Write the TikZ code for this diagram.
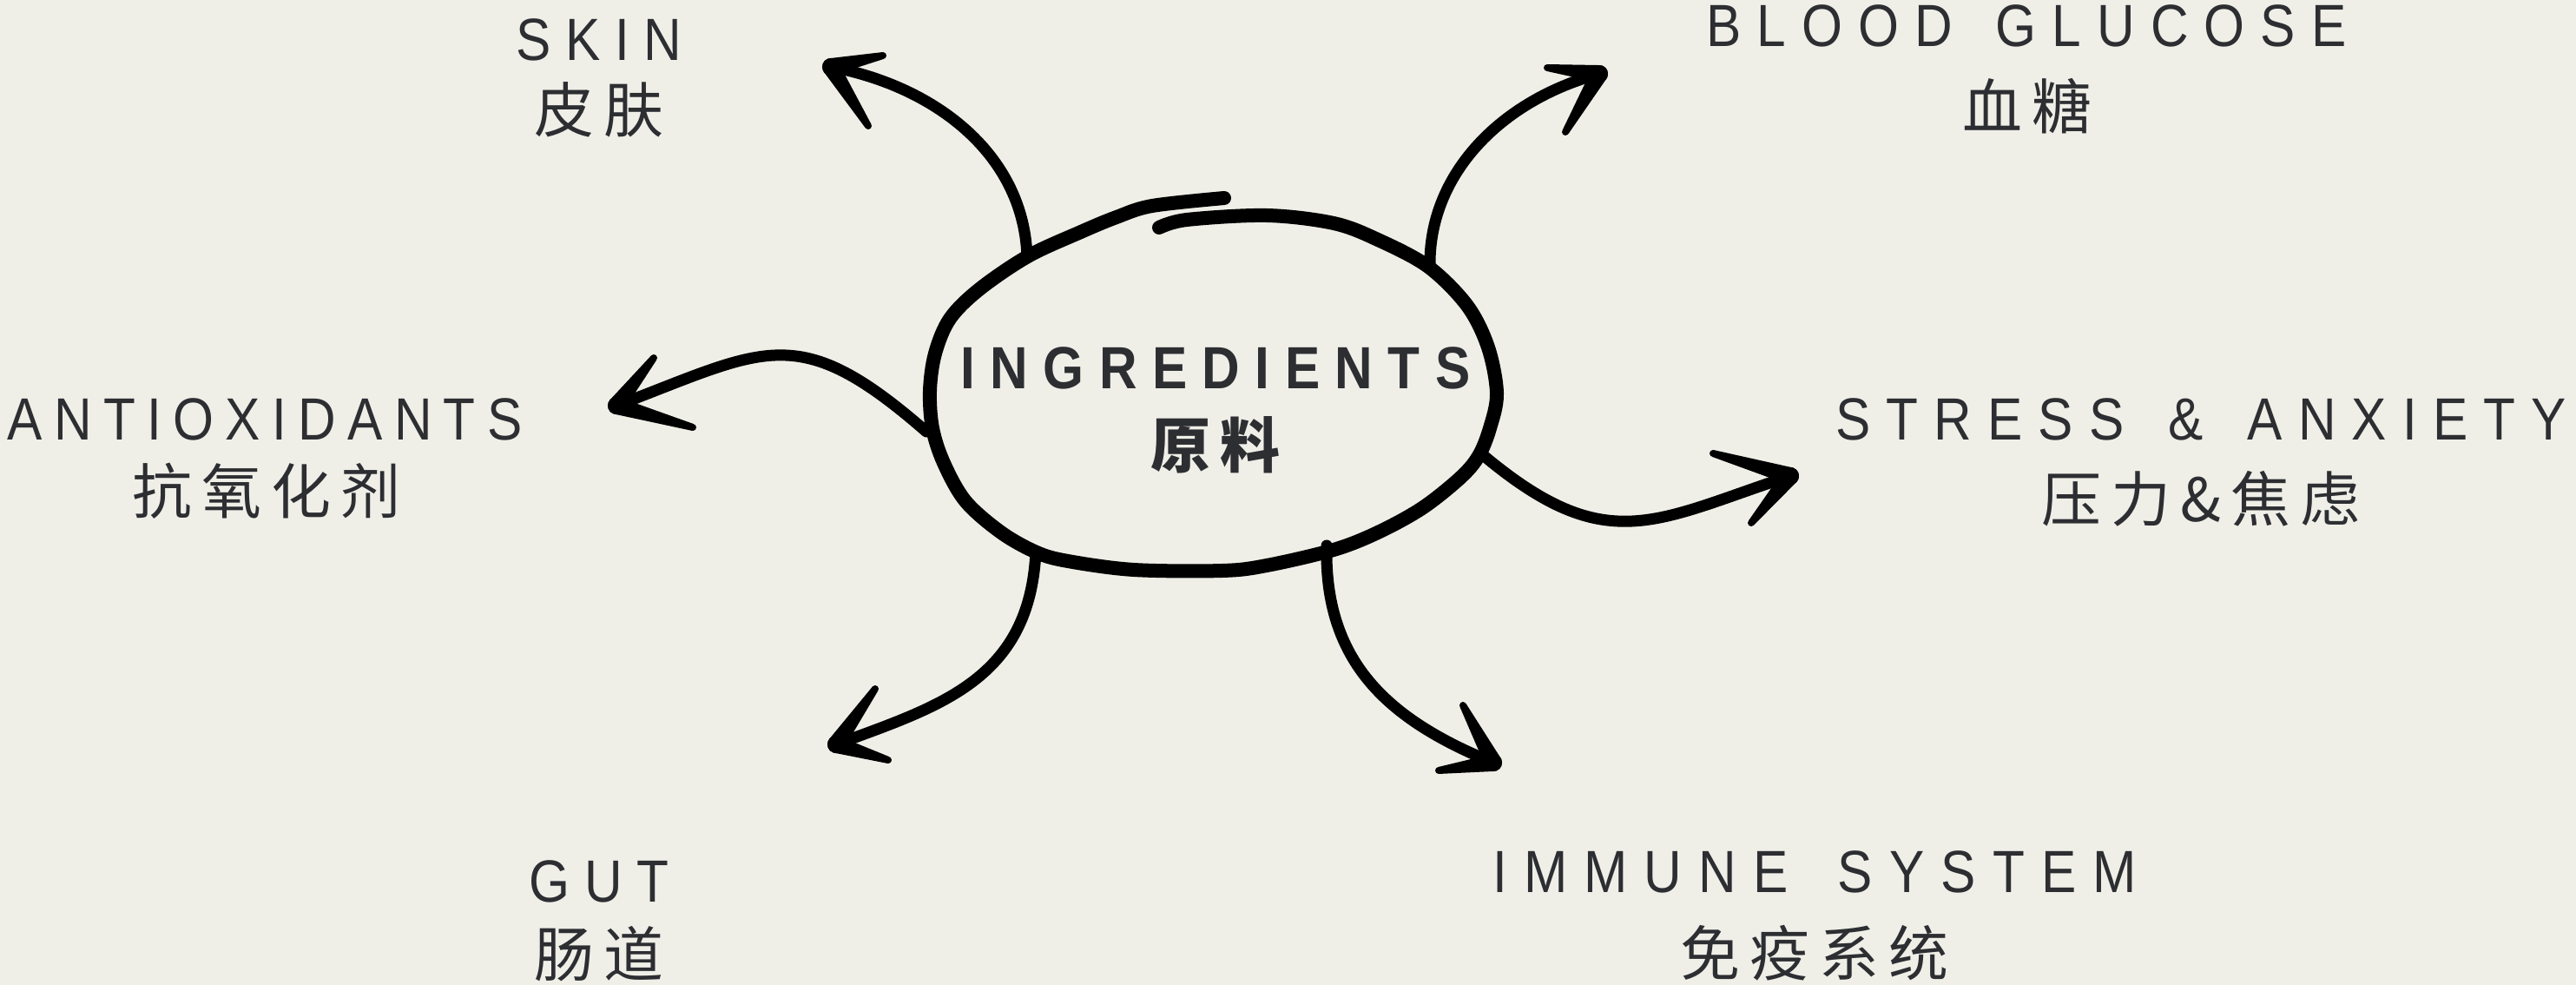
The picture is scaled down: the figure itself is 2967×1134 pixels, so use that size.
\documentclass[tikz,border=0pt]{standalone}
\usepackage{fontspec}
\usetikzlibrary{calc}
\newfontfamily\labfont[FakeStretch=0.88,LetterSpace=24]{Liberation Sans}
\newfontfamily\labnarrow[FakeStretch=0.88,LetterSpace=19.5]{Liberation Sans}
\newfontfamily\labwide[FakeStretch=0.88,LetterSpace=26.5]{Liberation Sans}
\newfontfamily\labwider[FakeStretch=0.88,LetterSpace=28]{Liberation Sans}
\newfontfamily\corefont[FakeStretch=0.88,LetterSpace=25.5]{Liberation Sans}
\newfontfamily\cjkfont[LetterSpace=16]{Noto Sans CJK SC}
\definecolor{bg}{RGB}{239,239,232}
\definecolor{txt}{RGB}{45,46,50}
\newcommand\wgap[1]{\hspace{#1}}
\newcommand\barb[2]{%
  \fill[black] ($(#1)!0.1cm!90:(#2)$) -- ($(#2)!0.04cm!-90:(#1)$) -- ($(#2)!0.04cm!90:(#1)$) -- ($(#1)!0.1cm!-90:(#2)$) -- cycle;
  \fill[black] (#1) circle (0.1cm);
  \fill[black] (#2) circle (0.04cm);
}
\tikzset{
  lab/.style={inner sep=0pt, text=txt, font=\labfont\fontsize{19.5pt}{20pt}\selectfont},
  labn/.style={inner sep=0pt, text=txt, font=\labnarrow\fontsize{19.5pt}{20pt}\selectfont},
  labw/.style={inner sep=0pt, text=txt, font=\labwide\fontsize{19.5pt}{20pt}\selectfont},
  labww/.style={inner sep=0pt, text=txt, font=\labwider\fontsize{19.5pt}{20pt}\selectfont},
  corelab/.style={inner sep=0pt, text=txt, font=\corefont\bfseries\fontsize{19.5pt}{20pt}\selectfont},
  cjk/.style={inner sep=0pt, text=txt, font=\cjkfont\fontsize{19.6pt}{20pt}\selectfont},
  cjkbold/.style={inner sep=0pt, text=txt, font=\cjkfont\bfseries\fontsize{19.6pt}{20pt}\selectfont},
  shaft/.style={draw=black, line width=0.13cm, line cap=round},
  rim/.style={draw=black, line width=0.16cm, line cap=round, line join=round},
}
\begin{document}
\begin{tikzpicture}[x=0.01cm, y=-0.01cm]
\useasboundingbox (0,0) rectangle (2967,1134);
\fill[bg] (0,0) rectangle (2967,1134);

% central hand-drawn ellipse
\draw[rim] plot[smooth, tension=0.55] coordinates {(1335,262) (1367,253) (1459,248) (1536,257) (1587,276) (1645,307) (1690,352) (1714,400) (1724,453) (1716,493) (1703,525) (1682,550) (1638,585) (1587,613) (1536,633) (1459,651) (1408,657) (1306,656) (1230,646) (1194,636) (1153,613) (1112,577) (1087,533) (1074,493) (1071,450) (1077,407) (1094,367) (1128,333) (1184,295) (1245,267) (1286,250) (1327,237) (1410,228)};

\node[corelab] (ingr) at (1400,424) {INGREDIENTS};
\node[cjkbold] (ingrzh) at (1400,512) {原料};

% labels
\node[lab] (skin) at (690,46) {SKIN};
\node[cjk] (skinzh) at (690,126) {皮肤};
\node[labn] (anti) at (305,483) {ANTIOXIDANTS};
\node[cjk] (antizh) at (307,565) {抗氧化剂};
\node[labw] (blood) at (2334,30) {BLOOD\wgap{0.49cm}GLUCOSE};
\node[cjk] (bloodzh) at (2335,122) {血糖};
\node[labw] (stress) at (2535,483) {STRESS\wgap{0.51cm}\&\wgap{0.51cm}ANXIETY};
\node[cjk] (stresszh) at (2535,574) {压力\&焦虑};
\node[lab] (gut) at (690,1015) {GUT};
\node[cjk] (gutzh) at (690,1098) {肠道};
\node[labww] (immune) at (2090,1004) {IMMUNE\wgap{0.57cm}SYSTEM};
\node[cjk] (immunezh) at (2090,1097) {免疫系统};

% arrow anchors
\coordinate (s1) at (1183,297); \coordinate (t1) at (957,77);  \coordinate (u1) at (1017,64);  \coordinate (l1) at (1000,145);
\coordinate (s2) at (1647,307); \coordinate (t2) at (1842,85); \coordinate (u2) at (1782,78);  \coordinate (l2) at (1803,152);
\coordinate (s3) at (1067,497); \coordinate (t3) at (710,467); \coordinate (u3) at (753,412);  \coordinate (l3) at (798,492);
\coordinate (s4) at (1707,523); \coordinate (t4) at (2062,548); \coordinate (u4) at (1973,522); \coordinate (l4) at (2017,602);
\coordinate (s5) at (1193,635); \coordinate (t5) at (963,857); \coordinate (u5) at (1008,793); \coordinate (l5) at (1023,875);
\coordinate (s6) at (1528,628); \coordinate (t6) at (1720,878); \coordinate (u6) at (1685,812); \coordinate (l6) at (1657,887);

\draw[shaft] (s1) .. controls (1180,180) and (1080,100) .. (t1);
\draw[shaft] (s2) .. controls (1645,200) and (1730,115) .. (t2);
\draw[shaft] (s3) .. controls (918,367) and (882,402) .. (t3);
\draw[shaft] (s4) .. controls (1851,644) and (1906,599) .. (t4);
\draw[shaft] (s5) .. controls (1186,783) and (1082,813) .. (t5);
\draw[shaft] (s6) .. controls (1525,761) and (1597,828) .. (t6);

\barb{t1}{u1} \barb{t1}{l1}
\barb{t2}{u2} \barb{t2}{l2}
\barb{t3}{u3} \barb{t3}{l3}
\barb{t4}{u4} \barb{t4}{l4}
\barb{t5}{u5} \barb{t5}{l5}
\barb{t6}{u6} \barb{t6}{l6}
\end{tikzpicture}
\end{document}
